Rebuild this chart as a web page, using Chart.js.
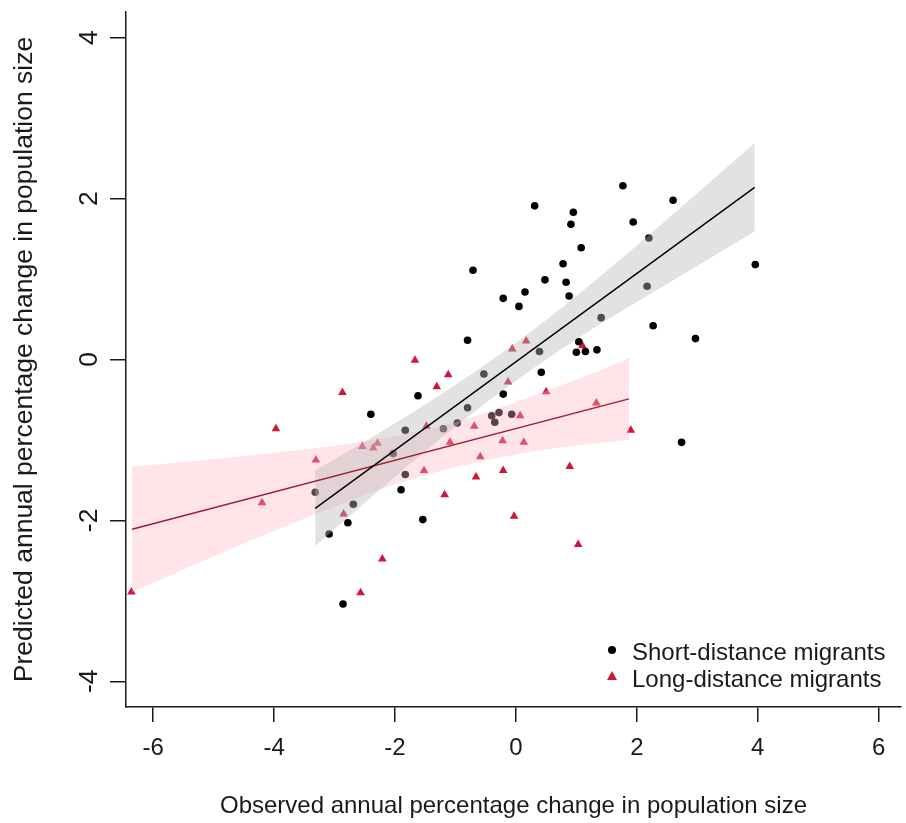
<!DOCTYPE html>
<html>
<head>
<meta charset="utf-8">
<script src="https://cdn.jsdelivr.net/npm/chart.js@4.4.0/dist/chart.umd.min.js"></script>
<style>
  html, body { margin: 0; padding: 0; background: #fff; }
</style>
</head>
<body>
<canvas id="chart" width="906" height="823"></canvas>
<script>
const xTicks = [-6, -4, -2, 0, 2, 4, 6];
const yTicks = [-4, -2, 0, 2, 4];

// short-distance migrants (black dots)
const shortX = [1.77, 2.60, 0.31, 0.95, 0.91, 1.94, 2.20, 1.08, -0.71, 0.78,
                0.48, 0.83, 0.15, 0.88, -0.21, 0.05, 2.17, 2.27, 1.41, -0.80,
                1.04, 1.00, 1.15, 1.34, 0.39, -0.53, 0.42, -1.62, -0.21, 3.96,
                2.97, 2.74, -0.80, -0.40, -0.28, -0.35, -0.07, -0.97, -1.20, -1.83,
                -2.03, -1.83, -1.90, -1.54, -2.40, -3.32, -2.69, -2.78, -3.09, -2.86];
const shortY = [2.16, 1.98, 1.91, 1.83, 1.68, 1.71, 1.51, 1.39, 1.11, 1.19,
                0.99, 0.96, 0.84, 0.79, 0.76, 0.66, 0.91, 0.42, 0.52, 0.24,
                0.22, 0.09, 0.10, 0.12, 0.10, -0.18, -0.16, -0.45, -0.43, 1.18,
                0.26, -1.03, -0.60, -0.70, -0.66, -0.78, -0.68, -0.79, -0.86, -0.88,
                -1.17, -1.43, -1.62, -1.99, -0.68, -1.65, -1.80, -2.03, -2.17, -3.04];

// long-distance migrants (red triangles)
const longX = [1.10, 0.17, -0.06, -1.67, -1.12, -1.31, -0.13, 0.50, 1.33, 1.90,
               0.07, -0.69, -1.48, -1.09, -0.22, 0.13, -0.59, -1.52, -0.66, -0.21,
               0.89, -1.18, -0.03, 1.03, -2.21, -2.87, -3.97, -3.31, -4.20, -6.36,
               -2.85, -2.57, -2.54, -2.36, -2.29];
const longY = [0.17, 0.23, 0.13, -0.01, -0.19, -0.34, -0.28, -0.40, -0.54, -0.88,
               -0.70, -0.83, -0.83, -1.03, -1.01, -1.03, -1.21, -1.38, -1.46, -1.38,
               -1.33, -1.68, -1.95, -2.30, -2.48, -0.41, -0.86, -1.25, -1.78, -2.89,
               -1.92, -2.90, -1.08, -1.10, -1.04];

// fitted lines
const shortLineX = [-3.32, 3.95];
const shortLineY = [-1.85, 2.14];
const longLineX = [-6.35, 1.87];
const longLineY = [-2.11, -0.49];

// confidence bands
const shortBandX = [-3.32, -2.5, -1.5, -0.5, 0.5, 1.5, 2.5, 3.95];
const shortBandUpper = [-1.38, -1.02, -0.56, -0.06, 0.49, 1.10, 1.74, 2.69];
const shortBandLower = [-2.32, -1.78, -1.14, -0.54, 0.00, 0.49, 0.94, 1.59];
const longBandX = [-6.35, -5, -4, -3, -2, -1, 0, 1, 1.87];
const longBandUpper = [-1.33, -1.24, -1.16, -1.07, -0.95, -0.78, -0.53, -0.25, 0.02];
const longBandLower = [-2.89, -2.45, -2.13, -1.83, -1.55, -1.34, -1.18, -1.07, -1.00];

const shortLabel = 'Short-distance migrants';
const longLabel = 'Long-distance migrants';

function pts(xs, ys) {
    return xs.map((x, i) => ({ x: x, y: ys[i] }));
}

const font = { family: '"Liberation Sans", Arial, sans-serif', size: 24 };
const tallFont = { family: '"Liberation Sans", Arial, sans-serif', size: 26.5 };
const ink = '#1a1a1a';
const redPoint = '#d0163a';

const legendPlugin = {
    id: 'cornerLegend',
    afterDraw(chart) {
        const ctx = chart.ctx;
        const x0 = 612;
        const rows = [
            { y: 653, text: shortLabel, shape: 'circle', color: '#000' },
            { y: 680, text: longLabel, shape: 'triangle', color: redPoint }
        ];
        ctx.save();
        ctx.font = '24px "Liberation Sans", Arial, sans-serif';
        ctx.textBaseline = 'middle';
        ctx.textAlign = 'left';
        rows.forEach(r => {
            ctx.fillStyle = r.color;
            ctx.beginPath();
            if (r.shape === 'circle') {
                ctx.arc(x0, r.y - 3, 4, 0, Math.PI * 2);
            } else {
                ctx.moveTo(x0, r.y - 9);
                ctx.lineTo(x0 + 5, r.y);
                ctx.lineTo(x0 - 5, r.y);
                ctx.closePath();
            }
            ctx.fill();
            ctx.fillStyle = ink;
            ctx.fillText(r.text, 632, r.y);
        });
        ctx.restore();
    }
};

const bgPlugin = {
    id: 'bg',
    beforeDraw(chart) {
        const ctx = chart.ctx;
        ctx.save();
        ctx.fillStyle = '#fff';
        ctx.fillRect(0, 0, chart.width, chart.height);
        ctx.restore();
    }
};

new Chart(document.getElementById('chart'), {
    type: 'scatter',
    data: {
        datasets: [
            {
                label: 'short line',
                data: pts(shortLineX, shortLineY),
                showLine: true,
                borderColor: '#000',
                borderWidth: 1.4,
                pointRadius: 0,
                order: 0
            },
            {
                label: 'long line',
                data: pts(longLineX, longLineY),
                showLine: true,
                borderColor: '#9e1e2e',
                borderWidth: 1.4,
                pointRadius: 0,
                order: 0
            },
            {
                label: 'short band upper',
                data: pts(shortBandX, shortBandUpper),
                showLine: true,
                borderWidth: 0,
                borderColor: 'rgba(0,0,0,0)',
                backgroundColor: 'rgba(185,185,185,0.42)',
                fill: '+1',
                pointRadius: 0,
                cubicInterpolationMode: 'monotone',
                order: 1
            },
            {
                label: 'short band lower',
                data: pts(shortBandX, shortBandLower),
                showLine: true,
                borderWidth: 0,
                borderColor: 'rgba(0,0,0,0)',
                pointRadius: 0,
                cubicInterpolationMode: 'monotone',
                order: 1
            },
            {
                label: 'long band upper',
                data: pts(longBandX, longBandUpper),
                showLine: true,
                borderWidth: 0,
                borderColor: 'rgba(0,0,0,0)',
                backgroundColor: 'rgba(255,180,195,0.36)',
                fill: '+1',
                pointRadius: 0,
                cubicInterpolationMode: 'monotone',
                order: 1
            },
            {
                label: 'long band lower',
                data: pts(longBandX, longBandLower),
                showLine: true,
                borderWidth: 0,
                borderColor: 'rgba(0,0,0,0)',
                pointRadius: 0,
                cubicInterpolationMode: 'monotone',
                order: 1
            },
            {
                label: shortLabel,
                data: pts(shortX, shortY),
                pointStyle: 'circle',
                pointRadius: 3.8,
                backgroundColor: '#000',
                borderColor: '#000',
                borderWidth: 0,
                order: 2
            },
            {
                label: longLabel,
                data: pts(longX, longY),
                pointStyle: 'triangle',
                pointRadius: 5,
                backgroundColor: redPoint,
                borderColor: redPoint,
                borderWidth: 0,
                order: 2
            }
        ]
    },
    options: {
        responsive: false,
        animation: false,
        devicePixelRatio: 1,
        layout: { padding: { left: 0, right: 0, top: 12, bottom: 0 } },
        plugins: {
            legend: { display: false },
            tooltip: { enabled: false }
        },
        scales: {
            x: {
                type: 'linear',
                min: -6.45,
                max: 6.37,
                afterBuildTicks: s => { s.ticks = xTicks.map(v => ({ value: v })); },
                afterFit: s => { s.height = 116; },
                grid: { drawOnChartArea: false, tickLength: 15, color: ink, lineWidth: 1.5 },
                border: { display: true, color: ink, width: 1.5 },
                ticks: { font: font, color: ink, padding: 12, maxRotation: 0, autoSkip: false },
                title: {
                    display: true,
                    text: 'Observed annual percentage change in population size',
                    font: font,
                    color: ink,
                    padding: { top: 0, bottom: 2 }
                }
            },
            y: {
                type: 'linear',
                min: -4.32,
                max: 4.32,
                afterBuildTicks: s => { s.ticks = yTicks.map(v => ({ value: v })); },
                afterFit: s => { s.width = 126; s.paddingTop = 0; s.paddingBottom = 0; },
                grid: { drawOnChartArea: false, tickLength: 16, color: ink, lineWidth: 1.5 },
                border: { display: true, color: ink, width: 1.5 },
                ticks: { font: tallFont, color: ink, padding: 9, minRotation: 90, maxRotation: 90, crossAlign: 'center', autoSkip: false },
                title: {
                    display: true,
                    text: 'Predicted annual percentage change in population size',
                    font: tallFont,
                    color: ink,
                    padding: { top: 9, bottom: 0 }
                }
            }
        }
    },
    plugins: [bgPlugin, legendPlugin]
});
</script>
</body>
</html>
